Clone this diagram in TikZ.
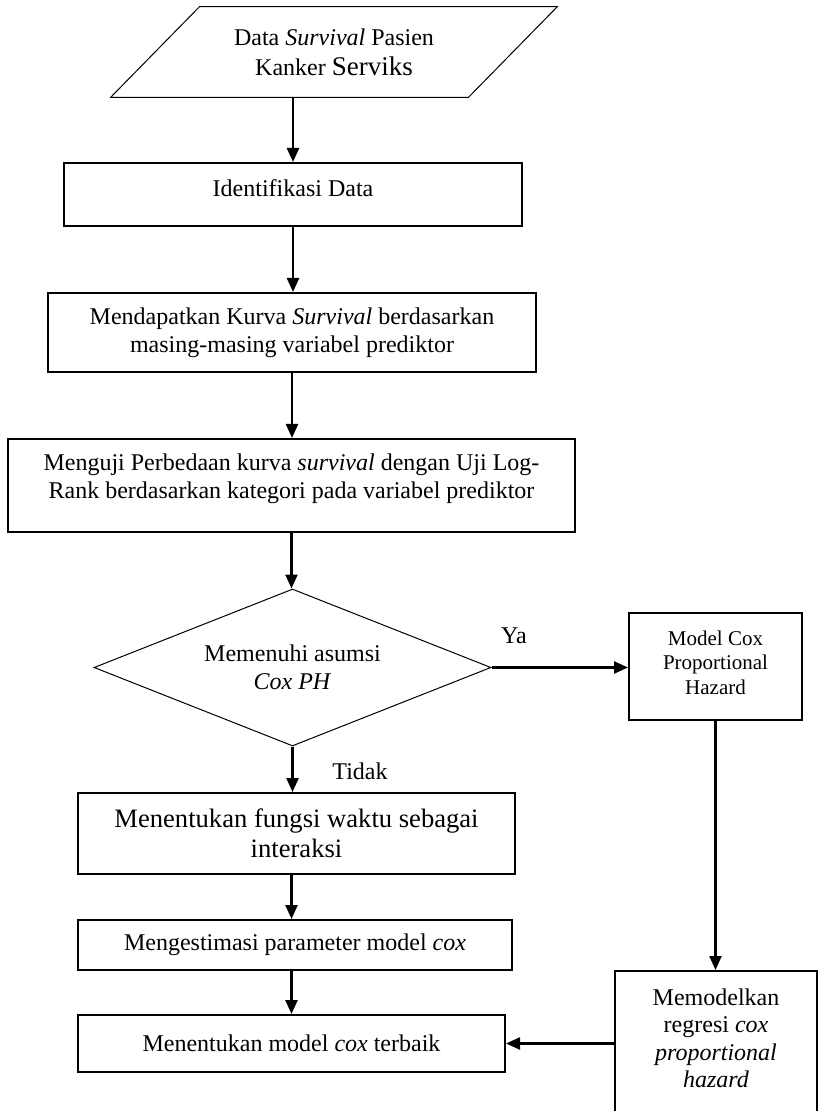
\documentclass[tikz,border=0pt]{standalone}
\usepackage{fontspec}
\setmainfont{Liberation Serif}
\usetikzlibrary{
	positioning
	, arrows.meta
	, shapes.geometric
}

\begin{document}
\begin{tikzpicture}[
		x=0.5pt, y=-0.5pt
		, font=\fontsize{12pt}{14pt}\selectfont
		, flowbox/.style={draw, line width=1pt, rectangle, align=center, inner sep=0pt}
		, inputbox/.style={align=center, inner sep=0pt}
		, inputline/.style={line width=0.5pt}
		, decision/.style={draw, line width=0.5pt, diamond, aspect=2.5, align=center, inner sep=0pt}
		, basearrow/.style={>={Triangle[length=7pt, width=6pt]}, line width=1.2pt}
		, flow/.style={basearrow, ->}
		, answer/.style={inner sep=0pt}]

		%%% Page frame
		\clip (0,0) rectangle (819,1111);

		%%% Input data
		\node[inputbox, minimum width=178.5pt, minimum height=45pt, font=\fontsize{12pt}{15pt}\selectfont] (data) at (334,52) {Data \textit{Survival} Pasien\\Kanker {\fontsize{13.5pt}{15pt}\selectfont Serviks}};
		\draw[inputline] ([xshift=-22.25pt]data.south west) -- ([xshift=22.25pt]data.north west)
			-- ([xshift=22.25pt]data.north east) -- ([xshift=-22.25pt]data.south east) -- cycle;

		%%% Main column
		\node[flowbox, minimum width=229pt, minimum height=31.5pt, text depth=6.5pt] (ident) at (293,194.5) {Identifikasi Data};
		\node[flowbox, minimum width=244pt, minimum height=39.5pt] (kurva) at (292,332.5) {Mendapatkan Kurva \textit{Survival} berdasarkan\\masing-masing variabel prediktor};
		\node[flowbox, minimum width=283.5pt, minimum height=46.5pt, text depth=9.1pt] (logrank) at (291.5,485.5) {Menguji Perbedaan kurva \textit{survival} dengan Uji Log-\\Rank berdasarkan kategori pada variabel prediktor};

		%% Decision
		\node[decision, minimum width=198.5pt, minimum height=78.5pt] (asumsi) at (292.5,667.5) {Memenuhi asumsi\\\textit{Cox PH}};

		\node[flowbox, minimum width=218.5pt, minimum height=40.5pt, font=\fontsize{13.3pt}{15pt}\selectfont] (fungsi) at (296.5,833.5) {Menentukan fungsi waktu sebagai\\interaksi};
		\node[flowbox, minimum width=217pt, minimum height=25pt] (estimasi) at (295,945) {Mengestimasi parameter model \textit{cox}};
		\node[flowbox, minimum width=213.5pt, minimum height=28.5pt] (terbaik) at (291.5,1043.5) {Menentukan model \textit{cox} terbaik};

		%%% Right branch
		\node[flowbox, minimum width=86.5pt, minimum height=53.5pt, font=\fontsize{10.5pt}{12.25pt}\selectfont, text depth=4pt] (coxph) at (715.5,666.5) {Model Cox\\Proportional\\Hazard};
		\node[flowbox, minimum width=101pt, minimum height=77pt, font=\fontsize{12pt}{13.75pt}\selectfont, text depth=10pt] (regresi) at (716,1048) {Memodelkan\\regresi \textit{cox}\\\textit{proportional}\\\textit{hazard}};

		%% Answers
		\node[answer] (ya) at (514,636) {Ya};
		\node[answer] (tidak) at (360,771) {Tidak};

		%%% Connectors
		\draw[flow] (data.south -| ident.north) -- (ident.north);
		\draw[flow] (ident.south) -- (ident.south |- kurva.north);
		\draw[flow] (kurva.south) -- (kurva.south |- logrank.north);
		\draw[flow] (logrank.south) -- (logrank.south |- asumsi.north);
		\draw[flow] (asumsi.east) -- (asumsi.east -| coxph.west);
		\draw[flow] (asumsi.south) -- (asumsi.south |- fungsi.north);
		\draw[flow] (fungsi.south -| terbaik.north) -- (estimasi.north -| terbaik.north);
		\draw[flow] (estimasi.south -| terbaik.north) -- (terbaik.north);
		\draw[flow] (coxph.south) -- (coxph.south |- regresi.north);
		\draw[flow] (regresi.west |- terbaik.east) -- (terbaik.east);
\end{tikzpicture}
\end{document}
